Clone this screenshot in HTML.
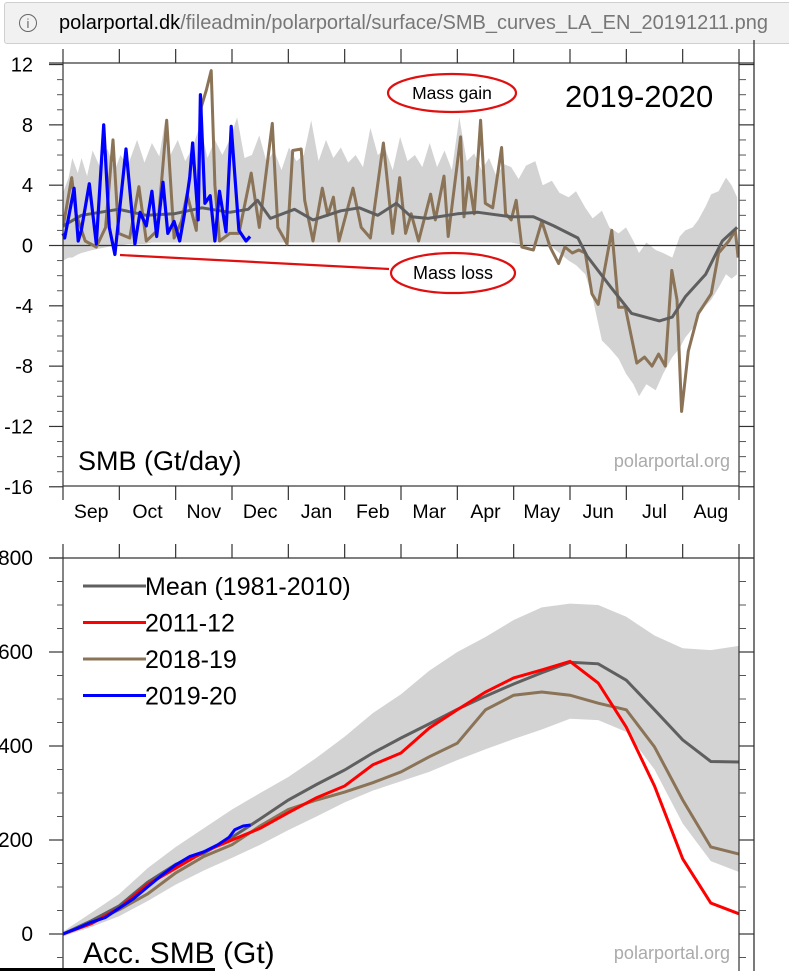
<!DOCTYPE html>
<html><head><meta charset="utf-8">
<style>
html,body{margin:0;padding:0;background:#fff;width:789px;height:971px;overflow:hidden;font-family:"Liberation Sans",sans-serif;}
#bar{position:absolute;left:4px;top:2px;width:800px;height:42px;background:#f1f1f1;border:1px solid #cfcfcf;border-radius:3px;box-sizing:border-box;}
#url{position:absolute;left:54px;top:9px;font-size:20px;color:#777;white-space:nowrap;}
#url b{font-weight:normal;color:#000;}
#info{position:absolute;left:14px;top:11px;width:18px;height:18px;border:1.5px solid #666;border-radius:50%;font-size:13px;color:#666;text-align:center;line-height:18px;box-sizing:border-box;}
svg{position:absolute;left:0;top:0;}
</style></head><body>
<div id="bar"><div id="info">i</div><div id="url"><b>polarportal.dk</b>/fileadmin/polarportal/surface/SMB_curves_LA_EN_20191211.png</div></div>
<svg id="chart" width="789" height="971"></svg>
<script>
// ---------- top chart data (days since Sep 1, Gt/day) ----------
const months = ["Sep","Oct","Nov","Dec","Jan","Feb","Mar","Apr","May","Jun","Jul","Aug"];
const topTicks = [12,8,4,0,-4,-8,-12,-16];
const bandDays = [0,3,5,8,10,13,16,20,24,28,31,35,40,44,48,52,55,58,62,66,70,74,78,82,86,90,94,98,102,106,110,114,118,122,126,130,134,138,142,146,150,154,158,162,166,170,174,178,182,186,190,194,198,202,206,210,214,218,222,226,230,234,238,242,246,250,255,259,264,268,273,277,282,286,291,295,300,304,308,311,315,320,324,329,333,336,340,343,347,350,354,358,361,364];
const bandUpper = [3.5,4.5,5.8,4.8,5.8,4.6,6.3,5.2,6.4,5.0,6.0,5.3,7.0,5.5,6.8,5.9,8.2,6.0,7.0,5.6,6.5,8.0,5.8,7.0,6.0,7.0,8.5,5.8,6.0,7.3,5.5,6.3,5.0,6.5,5.6,6.0,8.3,5.6,7.0,5.8,6.5,5.5,6.0,5.2,7.8,6.0,6.4,5.0,7.2,5.6,6.0,5.2,6.8,5.2,6.3,5.0,8.5,5.6,6.1,5.0,5.8,4.6,5.4,5.2,4.4,5.3,5.6,4.0,4.3,3.5,3.2,3.6,2.5,1.8,2.3,1.2,0.8,1.2,0.3,-0.5,0.2,-0.3,-0.5,-0.8,0.6,1.0,1.2,1.7,2.6,3.4,3.6,4.5,4.0,3.2];
const bandLower = [-1.0,-0.8,-0.8,-0.6,-0.5,-0.4,-0.3,-0.2,-0.1,0.0,0.0,0.1,0.1,0.1,0.2,0.2,0.2,0.2,0.2,0.2,0.2,0.2,0.2,0.2,0.2,0.2,0.2,0.2,0.2,0.2,0.2,0.2,0.2,0.2,0.2,0.2,0.2,0.2,0.2,0.2,0.2,0.2,0.2,0.2,0.2,0.2,0.2,0.2,0.2,0.2,0.2,0.2,0.2,0.2,0.2,0.2,0.2,0.2,0.2,0.2,0.2,0.2,0.2,0.2,0.1,0.0,0.0,-0.1,-0.1,-0.5,-1.0,-1.3,-1.9,-3.5,-6.3,-6.8,-7.5,-8.5,-9.2,-10.0,-9.2,-9.6,-8.5,-7.4,-6.8,-6.1,-5.5,-4.7,-4.0,-3.6,-2.8,-1.9,-2.2,-1.9];
const meanDays = [0,10,30,45,60,75,90,100,105,112,125,135,150,160,170,180,188,197,213,224,242,254,265,278,283,296,307,322,329,336,347,356,364];
const meanVals = [1.3,2.0,2.4,2.0,2.1,2.5,2.2,2.4,3.0,1.8,2.4,1.7,2.3,2.5,2.0,2.8,1.9,1.8,2.1,2.2,1.9,1.9,1.3,0.5,-0.7,-2.8,-4.5,-5.0,-4.75,-3.4,-1.9,0.3,1.2];
const brownDays = [0,4.7,7,12,18,23,27,30,36,41,45,51,56,60,64,67,72,74.7,77.4,80,82,84.5,90,95,101.6,106,113,116,121,124,128.6,130.5,135,140,143,146,149,156.6,161,166,173,178,181.8,185,188,192,198.5,201,205.7,208,214.7,216.5,219,222,225.5,228,232,236.8,239,242,244.7,247.7,254,258.5,263,267.6,271,275,278.5,282,285.6,289,296.3,300,303.6,309.8,314,318,321.6,325.2,328.7,331.5,334,337.6,343,350,354,359.5,363,364.5];
const brownVals = [1.2,4.5,2.1,0.3,-0.1,1.2,7.0,0.8,0.5,3.9,0.3,1.0,8.3,0.5,1.6,3.4,1.0,9.2,10.3,11.6,4.0,0.3,0.8,0.8,4.8,1.2,8.1,1.2,0.1,6.3,6.4,3.0,0.3,3.8,2.0,3.2,0.3,3.8,1.2,0.5,6.8,0.8,4.5,0.8,2.1,0.3,3.4,1.7,4.6,0.6,7.2,1.9,4.5,2.1,8.3,2.8,2.5,6.5,2.1,1.7,3.0,-0.1,-0.3,1.6,-0.1,-1.2,-0.1,-0.5,-0.3,-0.5,-3.2,-3.9,1.0,-4.1,-4.1,-7.8,-7.4,-8.0,-7.2,-8.0,-1.65,-3.6,-11.0,-7.0,-4.5,-3.2,-0.5,0.3,1.0,-0.8];
const blueDays = [0,0.9,6,8.2,9.9,14.2,18,22,25,28,34,38.8,41.6,45,48,50.6,54,56.6,60,63,65.6,68.4,70,73,74.2,76.6,79.5,82,84.5,88,90.8,95,98.8,101];
const blueVals = [0.8,0.5,3.8,0.3,1.0,4.1,0.1,8.0,1.2,-0.6,6.4,0.1,2.2,1.3,3.6,0.6,4.2,0.8,1.6,0.3,2.1,4.5,6.8,1.7,10.0,2.8,3.3,0.3,3.6,0.9,7.9,1.0,0.3,0.6];
// ---------- bottom chart data (months since Sep 1, Gt) ----------
const accTicks = [800,600,400,200,0];
const accT = [0,0.5,1,1.5,2,2.5,3,3.5,4,4.5,5,5.5,6,6.5,7,7.5,8,8.5,9,9.5,10,10.5,11,11.5,12];
const accUpper = [5,45,85,140,185,225,265,300,334,375,420,470,510,560,600,632,668,695,703,700,675,635,608,604,613];
const accLower = [-5,15,38,70,105,135,162,190,221,250,280,305,325,345,370,393,415,435,458,455,430,350,235,155,132];
const accMean = [0,28,60,110,148,172,206,245,285,318,349,385,417,447,478,506,532,556,578,575,540,477,413,367,366];
const acc2011 = [0,22,55,105,140,175,200,225,258,290,315,360,385,438,477,515,545,562,580,534,440,315,160,66,43];
const acc2018 = [0,25,52,85,130,165,190,230,265,285,302,322,345,377,406,477,508,515,508,491,477,398,285,185,170];
const blueT = [0,0.25,0.5,0.75,1,1.25,1.5,1.75,2,2.25,2.5,2.75,2.95,3.05,3.2,3.33];
const blueAcc = [0,12,25,35,55,75,100,125,147,165,175,190,206,222,230,232];

const svg = document.getElementById('chart');
const NS = 'http://www.w3.org/2000/svg';
function mk(tag, attrs, parent){const e=document.createElementNS(NS,tag);for(const k in attrs)e.setAttribute(k,attrs[k]);(parent||svg).appendChild(e);return e;}
const X0=63, X1=739, OUT=754;
const dayX = d => X0 + d*(X1-X0)/365;
const monX = m => X0 + m*(X1-X0)/12;
const topY = v => 245.5 - v*15.08;
const accY = v => 934 - v*0.47;
function pathFrom(xs, ys, fx, fy){return xs.map((x,i)=>(i?'L':'M')+fx(x).toFixed(1)+','+fy(ys[i]).toFixed(1)).join('');}

// ===== TOP CHART =====
const gTop = mk('g',{});


const clipT = mk('clipPath',{id:'ct'}); mk('rect',{x:X0,y:63,width:X1-X0,height:423},clipT);
const bandD = pathFrom(bandDays,bandUpper,dayX,topY)+bandDays.slice().reverse().map((d,i)=>'L'+dayX(d).toFixed(1)+','+topY(bandLower[bandDays.length-1-i]).toFixed(1)).join('')+'Z';
const band = mk('path',{d:bandD,fill:'#d3d3d3','clip-path':'url(#ct)'},gTop);


const zl = mk('line',{x1:X0,x2:X1,y1:topY(0),y2:topY(0),stroke:'#333','stroke-width':1.2},gTop);


const brown = mk('path',{d:pathFrom(brownDays,brownVals,dayX,topY),fill:'none',stroke:'#8a7356','stroke-width':3,'stroke-linejoin':'round','clip-path':'url(#ct)'},gTop);


const meanL = mk('path',{d:pathFrom(meanDays,meanVals,dayX,topY),fill:'none',stroke:'#5f5f5f','stroke-width':3,'stroke-linejoin':'round'},gTop);


const blueL = mk('path',{d:pathFrom(blueDays,blueVals,dayX,topY),fill:'none',stroke:'#0000ff','stroke-width':3.2,'stroke-linejoin':'round'},gTop);


// frame
mk('rect',{x:X0,y:63,width:X1-X0,height:423,fill:'none',stroke:'#333','stroke-width':1.2},gTop);
mk('line',{x1:X0-14,x2:X0,y1:63,y2:63,stroke:'#333','stroke-width':1.2},gTop);
mk('line',{x1:X1,x2:OUT,y1:63,y2:63,stroke:'#333','stroke-width':1.2},gTop);
for(let v=-16;v<=12;v++){
  const y=topY(v);
  if(v%4===0){
    mk('line',{x1:X0-14,x2:X0,y1:y,y2:y,stroke:'#333','stroke-width':1.2},gTop);
    mk('line',{x1:X1,x2:OUT,y1:y,y2:y,stroke:'#333','stroke-width':1.2},gTop);
  } else {
    mk('line',{x1:X0-6,x2:X0,y1:y,y2:y,stroke:'#555','stroke-width':1},gTop);
    mk('line',{x1:X1,x2:X1+7,y1:y,y2:y,stroke:'#555','stroke-width':1},gTop);
  }
}
topTicks.forEach(v=>{
  const t=mk('text',{x:33,y:topY(v)+7,'text-anchor':'end','font-size':20,fill:'#000'},gTop);
  t.textContent=v;
  
  
});
for(let m=0;m<=12;m++){
  const x=monX(m);
  mk('line',{x1:x,x2:x,y1:49,y2:63,stroke:'#333','stroke-width':1.2},gTop);
  mk('line',{x1:x,x2:x,y1:486,y2:500,stroke:'#333','stroke-width':1.2},gTop);
}
months.forEach((m,i)=>{
  const t=mk('text',{x:monX(i+0.5),y:518,'text-anchor':'middle','font-size':19.5,fill:'#000'},gTop);
  t.textContent=m;
  
  
});
let tt;
tt=mk('text',{x:565,y:107,'font-size':31,fill:'#000'},gTop); tt.textContent='2019-2020';


tt=mk('text',{x:78,y:470,'font-size':27,fill:'#000'},gTop); tt.textContent='SMB (Gt/day)';


tt=mk('text',{x:730,y:467,'text-anchor':'end','font-size':18,fill:'#aaa'},gTop); tt.textContent='polarportal.org';


// annotations
const e1=mk('ellipse',{cx:452,cy:93,rx:64,ry:19,fill:'none',stroke:'#e01010','stroke-width':2.2},gTop);


tt=mk('text',{x:452,y:99,'text-anchor':'middle','font-size':17.5,fill:'#000'},gTop); tt.textContent='Mass gain';


const e2=mk('ellipse',{cx:453,cy:273,rx:62,ry:20,fill:'none',stroke:'#e01010','stroke-width':2.2},gTop);


tt=mk('text',{x:453,y:279,'text-anchor':'middle','font-size':18,fill:'#000'},gTop); tt.textContent='Mass loss';


const pl=mk('line',{x1:120,y1:255,x2:389,y2:269,stroke:'#e01010','stroke-width':2.2},gTop);



// ===== BOTTOM CHART =====
const gB = mk('g',{});


const bandB = pathFrom(accT,accUpper,monX,accY)+accT.slice().reverse().map((t,i)=>'L'+monX(t).toFixed(1)+','+accY(accLower[accT.length-1-i]).toFixed(1)).join('')+'Z';
const bb=mk('path',{d:bandB,fill:'#d3d3d3'},gB);


const l18=mk('path',{d:pathFrom(accT,acc2018,monX,accY),fill:'none',stroke:'#8a7356','stroke-width':3},gB);


const lm=mk('path',{d:pathFrom(accT,accMean,monX,accY),fill:'none',stroke:'#5f5f5f','stroke-width':3},gB);


const l11=mk('path',{d:pathFrom(accT,acc2011,monX,accY),fill:'none',stroke:'#ff0000','stroke-width':3},gB);


const l19=mk('path',{d:pathFrom(blueT,blueAcc,monX,accY),fill:'none',stroke:'#0000ff','stroke-width':3},gB);


mk('line',{x1:X0,x2:X1,y1:558,y2:558,stroke:'#333','stroke-width':1.2},gB);
mk('line',{x1:X0-14,x2:X0,y1:558,y2:558,stroke:'#333','stroke-width':1.2},gB);
mk('line',{x1:X1,x2:OUT,y1:558,y2:558,stroke:'#333','stroke-width':1.2},gB);
mk('line',{x1:X0,x2:X0,y1:558,y2:971,stroke:'#333','stroke-width':1.2},gB);
mk('line',{x1:X1,x2:X1,y1:558,y2:971,stroke:'#333','stroke-width':1.2},gB);
mk('line',{x1:OUT,x2:OUT,y1:40,y2:971,stroke:'#222','stroke-width':1.2},gB);
for(let v=-50;v<=800;v+=50){
  const y=accY(v);
  if(v%200===0){
    mk('line',{x1:X0-14,x2:X0,y1:y,y2:y,stroke:'#333','stroke-width':1.2},gB);
    mk('line',{x1:X1,x2:OUT,y1:y,y2:y,stroke:'#333','stroke-width':1.2},gB);
  } else {
    mk('line',{x1:X0-6,x2:X0,y1:y,y2:y,stroke:'#555','stroke-width':1},gB);
    mk('line',{x1:X1,x2:X1+7,y1:y,y2:y,stroke:'#555','stroke-width':1},gB);
  }
}
accTicks.forEach(v=>{
  const t=mk('text',{x:33,y:accY(v)+7,'text-anchor':'end','font-size':21,fill:'#000'},gB);
  t.textContent=v;
  
  
});
for(let m=0;m<=12;m++){
  const x=monX(m);
  mk('line',{x1:x,x2:x,y1:544,y2:558,stroke:'#333','stroke-width':1.2},gB);
}
const legNames=['Mean (1981-2010)','2011-12','2018-19','2019-20'];
const legCols=['#5f5f5f','#ff0000','#8a7356','#0000ff'];
legNames.forEach((n,i)=>{
  const y=586+i*36.5;
  const g=mk('g',{},gB);
  
  
  mk('line',{x1:83,x2:146,y1:y,y2:y,stroke:legCols[i],'stroke-width':3},g);
  const t=mk('text',{x:145,y:y+9,'font-size':25,fill:'#000'},g); t.textContent=n;
});
tt=mk('text',{x:83,y:963,'font-size':30,fill:'#000'},gB); tt.textContent='Acc. SMB (Gt)';


tt=mk('text',{x:730,y:959,'text-anchor':'end','font-size':18,fill:'#aaa'},gB); tt.textContent='polarportal.org';


const bl=mk('rect',{x:0,y:968,width:215,height:3,fill:'#000'},gB);


</script>
</body></html>
